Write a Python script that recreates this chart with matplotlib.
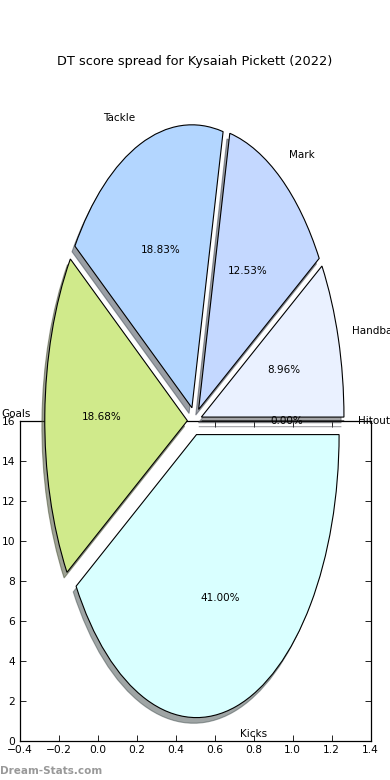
import matplotlib
matplotlib.use("Agg")
import matplotlib.pyplot as plt

# ---- data ----
categories = ["Handball", "Mark", "Tackle", "Goals", "Kicks", "Hitout"]
shares = [8.96, 12.53, 18.83, 18.68, 41.00, 0.00]
colors = ["#eaf1ff", "#c4d8ff", "#b3d6ff", "#d0ea8b", "#d9ffff", "#e0e0ff"]
explode = [0.05] * len(categories)
x_ticks = [-0.4, -0.2, 0.0, 0.2, 0.4, 0.6, 0.8, 1.0, 1.2, 1.4]
y_ticks = [0, 2, 4, 6, 8, 10, 12, 14, 16]
title = "DT score spread for Kysaiah Pickett (2022)"
watermark = "Dream-Stats.com"

W, H = 390, 780
DPI = 100
fig = plt.figure(figsize=(W / DPI, H / DPI), dpi=DPI)

# background (empty) axes with frame and ticks
ax2 = fig.add_axes([0.05, 0.05, 0.9, 0.41])
ax2.set_xlim(-0.4, 1.4)
ax2.set_ylim(0, 16)
ax2.set_xticks(x_ticks)
ax2.set_yticks(y_ticks)
ax2.tick_params(direction="in", top=True, right=True, length=4, width=0.6,
                labelsize=7.7, pad=3)
for s in ax2.spines.values():
    s.set_linewidth(0.9)
ax2.set_zorder(1)

# pie axes over the whole figure (non-equal aspect, stretched pie)
ax = fig.add_axes([0, 0, 1, 1])
ax.set_zorder(2)
ax.patch.set_visible(False)
shadow_off = -0.02 * 72 / DPI
wedges, texts, autotexts = ax.pie(
    shares, labels=categories, colors=colors, explode=explode,
    autopct="%.2f%%", shadow={"ox": shadow_off, "oy": shadow_off},
    startangle=0, counterclock=True,
    labeldistance=1.1, pctdistance=0.6,
    wedgeprops={"edgecolor": "black", "linewidth": 0.8},
    textprops={"fontsize": 7.5},
)
ax.set_aspect("auto")
cx, cy, rx, ry = 194.5, 421.0, 142.6, 283.0   # pixel layout of pie
ax.set_xlim(-cx / rx, (W - cx) / rx)
ax.set_ylim((cy - H) / ry, cy / ry)
ax.axis("off")

fig.text(0.5, 1 - 61 / H, title, ha="center", va="center", fontsize=9.3)
fig.text(0.0, 1 - 771 / H, watermark, ha="left", va="center", fontsize=7.5,
         color="#999999", fontweight="bold")

fig.savefig("out.png", dpi=DPI)
